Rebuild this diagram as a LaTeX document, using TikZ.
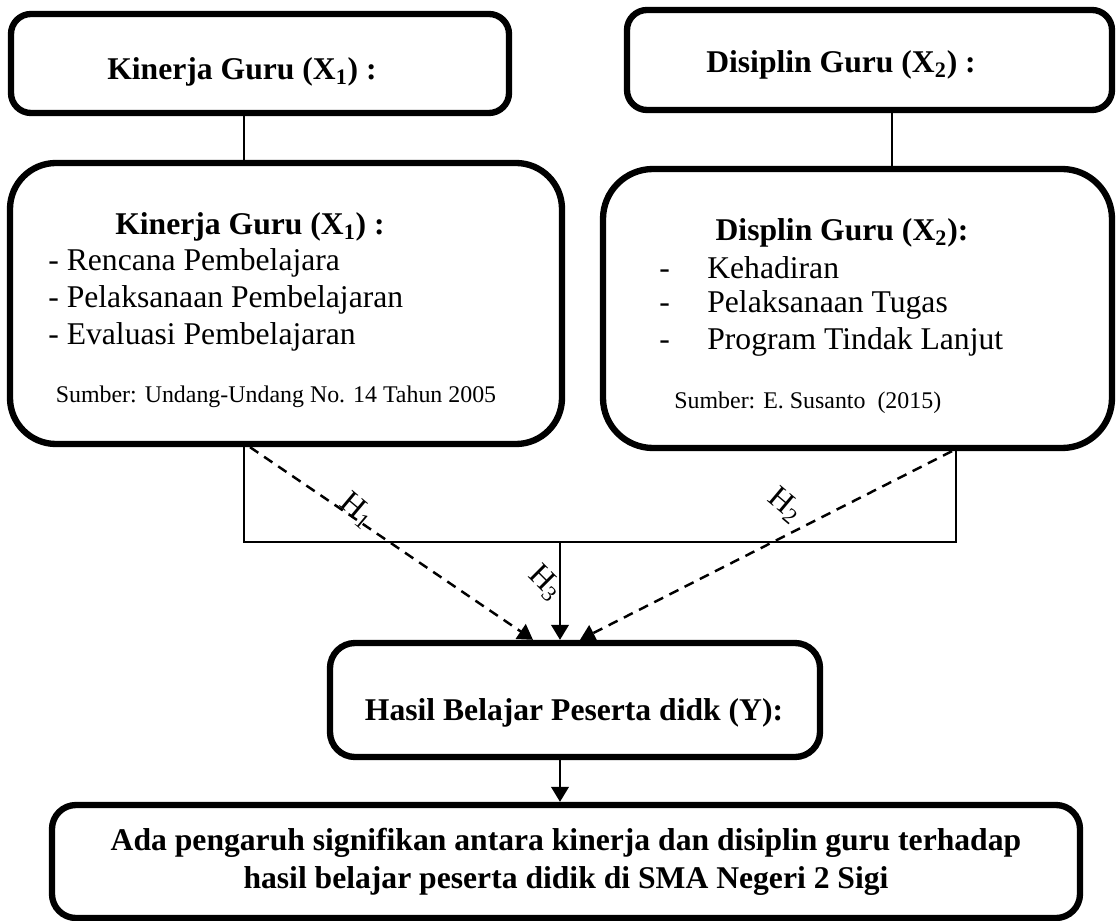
\documentclass[tikz,border=0pt]{standalone}
\usepackage{fontspec}
\setmainfont{Liberation Serif}
\usetikzlibrary{arrows.meta}

\begin{document}
\begin{tikzpicture}[x=0.2mm, y=-0.2mm,
            box/.style={draw, line width=3.6pt, inner sep=0pt},
            title/.style={font=\fontsize{18}{21.6}\selectfont\bfseries, inner sep=0pt},
            item/.style={font=\fontsize{18}{21.6}\selectfont, inner sep=0pt, anchor=west},
            src/.style={font=\fontsize{13.6}{16}\selectfont, inner sep=0pt},
            hlab/.style={font=\fontsize{18}{21.6}\selectfont, inner sep=0pt, rotate=-40},
            link/.style={line width=1.1pt},
            tip/.style={-{Triangle[length=8.5pt,width=10pt]}},
            hyp/.style={line width=1.4pt, dash pattern=on 5.7pt off 4pt}]
        \useasboundingbox (0,0) rectangle (1117,921);

        % kinerja guru
        \node[box, rounded corners=4mm, minimum width=99.6mm, minimum height=19.8mm] (kg1) at (260,63.5) {};
        \node[title] (kg1t) at (242,72) {Kinerja Guru (X\textsubscript{1}) :};
        \node[box, rounded corners=9.2mm, minimum width=110.4mm, minimum height=56.2mm] (kg2) at (286,303.5) {};
        \node[title] (kg2t) at (250,227) {Kinerja Guru (X\textsubscript{1}) :};
        \node[item] (kg2a) at (48,263) {- Rencana Pembelajara};
        \node[item] (kg2b) at (48,300) {- Pelaksanaan Pembelajaran};
        \node[item] (kg2c) at (48,337) {- Evaluasi Pembelajaran};
        \node[src] (kg2s) at (276,397) {Sumber: Undang-Undang No. 14 Tahun 2005};

        % disiplin guru
        \node[box, rounded corners=4mm, minimum width=97mm, minimum height=20mm] (dg1) at (869.5,60) {};
        \node[title] (dg1t) at (841,65) {Disiplin Guru (X\textsubscript{2}) :};
        \node[box, rounded corners=10mm, minimum width=101.8mm, minimum height=55.8mm] (dg2) at (857.5,308.5) {};
        \node[title] (dg2t) at (842,233) {Displin Guru (X\textsubscript{2}):};
        \node[item] (dg2a) at (659,268) {\makebox[9.6mm][l]{-}Kehadiran};
        \node[item] (dg2b) at (659,305) {\makebox[9.6mm][l]{-}Pelaksanaan Tugas};
        \node[item] (dg2c) at (659,342) {\makebox[9.6mm][l]{-}Program Tindak Lanjut};
        \node[src, anchor=west] (dg2s) at (674,403) {Sumber: E. Susanto\ \ (2015)};

        % hasil belajar
        \node[box, rounded corners=5mm, minimum width=98mm, minimum height=22.8mm] (hb) at (575,700) {};
        \node[title] (hbt) at (574,713) {Hasil Belajar Peserta didk (Y):};
        \node[box, rounded corners=4.8mm, minimum width=205.6mm, minimum height=22.6mm,
              font=\fontsize{18}{21.6}\selectfont\bfseries, align=center] (ka) at (566,861.5)
              {Ada pengaruh signifikan antara kinerja dan disiplin guru terhadap\\hasil belajar peserta didik di SMA Negeri 2 Sigi};

        \coordinate (jl) at (244,542);
        \coordinate (jm) at (560,542);
        \coordinate (jr) at (956,542);
        \coordinate (cd) at (892,140);
        \coordinate (s1) at (250,446);
        \coordinate (s2) at (952,450);
        \coordinate (e1) at (533,639);
        \coordinate (e2) at (580,639);

        \draw[link] (kg1.south -| jl) -- (kg2.north -| jl);
        \draw[link] (dg1.south -| cd) -- (dg2.north -| cd);
        \draw[link] (kg2.south -| jl) -- (jl) -- (jr) -- (dg2.south -| jr);
        \draw[link, tip] (jm) -- (hb.north -| jm);
        \draw[link, tip] (hb.south -| jm) -- (ka.north -| jm);

        \draw[hyp, tip] (kg2.south -| s1) -- (hb.north -| e1);
        \draw[hyp, tip] (dg2.south -| s2) -- (hb.north -| e2);
        \node[hlab] (h1) at (357,510) {H\textsubscript{1}};
        \node[hlab] (h2) at (785,505) {H\textsubscript{2}};
        \node[hlab, rotate=-5] (h3) at (545,583) {H\textsubscript{3}};
\end{tikzpicture}
\end{document}
